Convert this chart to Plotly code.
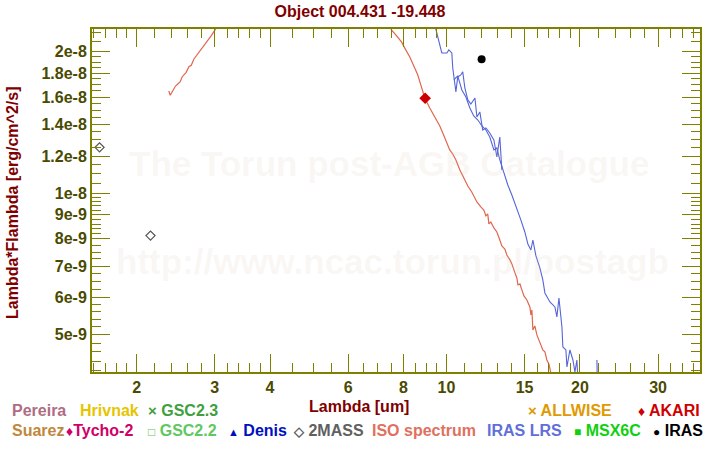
import plotly.graph_objects as go

# ---------------- data ----------------
twomass_lam = [1.65, 2.15]
twomass_flux = [1.252e-8, 8.13e-9]

akari_lam = [8.95]
akari_flux = [1.592e-8]

iras_lam = [12.0]
iras_flux = [1.927e-8]

# ISO spectrum: two visible pieces (the middle part is above the plotted range)
iso_lam = [
    2.364, 2.382, 2.414, 2.448, 2.478, 2.509, 2.535, 2.588, 2.624, 2.657,
    2.692, 2.749, 2.798, 2.847, 2.896, 2.948, 2.999, 3.046,
    None,
    7.371, 7.513, 7.685, 7.915, 8.093, 8.265, 8.438, 8.615, 8.750, 8.933,
    9.168, 9.410, 9.658, 9.809, 10.02, 10.17, 10.33, 10.50, 10.72, 10.94,
    11.17, 11.40, 11.71, 11.95, 12.14, 12.27, 12.39, 12.46, 12.59, 12.79,
    12.99, 13.19, 13.33, 13.54, 13.68, 13.90, 14.04, 14.27, 14.41, 14.49,
    14.64, 14.79, 14.95, 15.18, 15.42, 15.50, 15.58, 15.66, 15.82, 15.99,
    16.15, 16.32, 16.49, 16.67, 16.84, 17.02, 17.11, 17.29,
]
iso_flux = [
    1.650e-8, 1.616e-8, 1.652e-8, 1.690e-8, 1.707e-8, 1.726e-8, 1.769e-8, 1.807e-8, 1.858e-8, 1.871e-8,
    1.927e-8, 1.978e-8, 2.017e-8, 2.066e-8, 2.117e-8, 2.163e-8, 2.216e-8, 2.279e-8,
    None,
    2.335e-8, 2.224e-8, 2.170e-8, 2.097e-8, 2.017e-8, 1.949e-8, 1.864e-8, 1.784e-8, 1.699e-8, 1.594e-8,
    1.518e-8, 1.453e-8, 1.390e-8, 1.343e-8, 1.285e-8, 1.236e-8, 1.212e-8, 1.177e-8, 1.121e-8, 1.078e-8,
    1.036e-8, 1.006e-8, 9.583e-9, 9.352e-9, 9.215e-9, 8.949e-9, 9.037e-9, 8.607e-9, 8.690e-9, 8.437e-9,
    8.274e-9, 7.955e-9, 7.727e-9, 7.614e-9, 7.394e-9, 7.217e-9, 7.077e-9, 6.772e-9, 6.607e-9, 6.385e-9,
    6.416e-9, 6.231e-9, 6.050e-9, 5.932e-9, 5.732e-9, 5.512e-9, 5.649e-9, 5.123e-9, 5.224e-9, 4.999e-9,
    4.878e-9, 4.784e-9, 4.645e-9, 4.600e-9, 4.422e-9, 4.337e-9, 4.253e-9, 4.050e-9,
]

# IRAS LRS spectrum: short-wavelength and long-wavelength pieces (they overlap)
lrs_a_lam = [9.410, 9.658, 9.759, 10.02, 10.12, 10.28, 10.33, 10.50, 10.60, 10.77,
             10.88, 11.00, 11.17, 11.35, 11.59, 11.71, 11.89, 12.07, 12.27, 12.52,
             12.79, 12.99, 13.19, 13.33]
lrs_a_flux = [2.279e-8, 2.086e-8, 1.987e-8, 1.987e-8, 2.017e-8, 1.987e-8, 1.846e-8, 1.642e-8, 1.767e-8, 1.784e-8,
              1.811e-8, 1.674e-8, 1.579e-8, 1.548e-8, 1.594e-8, 1.453e-8, 1.489e-8, 1.363e-8, 1.377e-8, 1.343e-8,
              1.298e-8, 1.194e-8, 1.317e-8, 1.121e-8]

lrs_b_lam = [10.39, 10.60, 10.83, 11.06, 11.29, 11.52, 11.77, 12.02, 12.27, 12.52,
             12.79, 12.99, 13.19, 13.40, 13.75, 14.04, 14.41, 14.71, 15.02, 15.26,
             15.50, 15.66, 15.91, 16.24, 16.49, 16.67, 17.11, 17.56, 17.74, 17.93,
             18.21, 18.30, 18.59, 18.69, 18.98, 19.28, 19.48, 19.68, 19.79,
             None, 21.84, 21.89]
lrs_b_flux = [1.741e-8, 1.776e-8, 1.658e-8, 1.602e-8, 1.518e-8, 1.460e-8, 1.431e-8, 1.390e-8, 1.363e-8, 1.317e-8,
              1.236e-8, 1.248e-8, 1.177e-8, 1.121e-8, 1.041e-8, 9.917e-9, 9.307e-9, 8.777e-9, 8.274e-9, 7.802e-9,
              7.576e-9, 7.955e-9, 7.357e-9, 6.940e-9, 6.542e-9, 6.139e-9, 5.875e-9, 5.732e-9, 5.458e-9, 5.990e-9,
              5.198e-9, 4.714e-9, 4.645e-9, 4.273e-9, 4.645e-9, 4.422e-9, 4.170e-9, 4.422e-9, 4.011e-9,
              None, 4.422e-9, 3.914e-9]

# axis ticks
x_tickvals = [2, 3, 4, 6, 8, 10, 15, 20, 30]
x_ticktext = ["2", "3", "4", "6", "8", "10", "15", "20", "30"]
x_minor = [1.6, 1.7, 1.8, 1.9, 2.2, 2.4, 2.6, 2.8, 3.2, 3.4, 3.6, 3.8, 4.5, 5, 5.5,
           6.5, 7, 7.5, 8.5, 9, 9.5, 11, 12, 13, 14, 16, 17, 18, 19, 22, 24, 26, 28,
           32, 34, 36]
y_tickvals = [5e-9, 6e-9, 7e-9, 8e-9, 9e-9, 1e-8, 1.2e-8, 1.4e-8, 1.6e-8, 1.8e-8, 2e-8]
y_ticktext = ["5e-9", "6e-9", "7e-9", "8e-9", "9e-9", "1e-8", "1.2e-8", "1.4e-8",
              "1.6e-8", "1.8e-8", "2e-8"]
y_minor = [4.2e-9, 4.4e-9, 4.6e-9, 4.8e-9, 5.2e-9, 5.4e-9, 5.6e-9, 5.8e-9,
           6.25e-9, 6.5e-9, 6.75e-9, 7.25e-9, 7.5e-9, 7.75e-9,
           8.2e-9, 8.4e-9, 8.6e-9, 8.8e-9, 9.2e-9, 9.4e-9, 9.6e-9, 9.8e-9,
           1.05e-8, 1.1e-8, 1.15e-8, 1.25e-8, 1.3e-8, 1.35e-8, 1.45e-8, 1.5e-8, 1.55e-8,
           1.65e-8, 1.7e-8, 1.75e-8, 1.85e-8, 1.9e-8, 1.95e-8, 2.1e-8, 2.2e-8]

title_text = "Object 004.431 -19.448"
x_title = "Lambda [um]"
y_title = "Lambda*Flambda [erg/cm^2/s]"
watermark1 = "The Torun post-AGB Catalogue"
watermark2 = "http://www.ncac.torun.pl/postagb"

# ---------------- layout constants ----------------
W, H = 720, 450
L, R, T, B = 92, 20, 29, 78
FONT = "Liberation Sans, Arial, sans-serif"
AXIS_COL = "#808000"
TICK_COL = "#4a4a00"
DARKRED = "#800000"


def px_x(px):
    return (px - L) / (W - L - R)


def px_y(py):
    return (H - B - py) / (H - T - B)


fig = go.Figure()

fig.add_trace(go.Scatter(x=iso_lam, y=iso_flux, mode="lines",
                         line=dict(color="#e0664f", width=1.2), connectgaps=False,
                         hoverinfo="skip"))
fig.add_trace(go.Scatter(x=lrs_a_lam, y=lrs_a_flux, mode="lines",
                         line=dict(color="#5565d8", width=1.1), hoverinfo="skip"))
fig.add_trace(go.Scatter(x=lrs_b_lam, y=lrs_b_flux, mode="lines",
                         line=dict(color="#5565d8", width=1.1), connectgaps=False,
                         hoverinfo="skip"))
fig.add_trace(go.Scatter(x=twomass_lam, y=twomass_flux, mode="markers",
                         marker=dict(symbol="diamond-open", size=7, color="#555555",
                                     line=dict(width=1.2, color="#555555"))))
fig.add_trace(go.Scatter(x=akari_lam, y=akari_flux, mode="markers",
                         marker=dict(symbol="diamond", size=9, color="#cc0000")))
fig.add_trace(go.Scatter(x=iras_lam, y=iras_flux, mode="markers",
                         marker=dict(symbol="circle", size=8, color="#000000")))

axis_common = dict(
    type="log",
    showgrid=False, zeroline=False,
    showline=True, linecolor=AXIS_COL, linewidth=2, mirror="ticks",
    ticks="inside", ticklen=18, tickwidth=1, tickcolor=AXIS_COL,
    tickmode="array",
    tickfont=dict(family=FONT, size=16, color=TICK_COL, weight="bold"),
)

fig.update_xaxes(
    **axis_common,
    range=[0.2005, 1.5717],
    tickvals=x_tickvals, ticktext=x_ticktext,
    minor=dict(tickmode="array", tickvals=x_minor, ticks="inside", ticklen=9,
               tickwidth=1, tickcolor=AXIS_COL, showgrid=False),
)
fig.update_yaxes(
    **axis_common,
    range=[-8.3799, -7.6509],
    tickvals=y_tickvals, ticktext=y_ticktext,
    minor=dict(tickmode="array", tickvals=y_minor, ticks="inside", ticklen=9,
               tickwidth=1, tickcolor=AXIS_COL, showgrid=False),
)

annotations = []
# watermark
wm_col = "rgba(210,190,160,0.12)"
annotations.append(dict(text=watermark1, xref="paper", yref="paper",
                        x=px_x(389), y=px_y(163), xanchor="center", yanchor="middle",
                        showarrow=False,
                        font=dict(family=FONT, size=35, color=wm_col, weight="bold")))
annotations.append(dict(text=watermark2, xref="paper", yref="paper",
                        x=px_x(392), y=px_y(261), xanchor="center", yanchor="middle",
                        showarrow=False,
                        font=dict(family=FONT, size=35, color=wm_col, weight="bold")))
# axis titles
annotations.append(dict(text=x_title, xref="paper", yref="paper",
                        x=px_x(359), y=px_y(406), xanchor="center", yanchor="middle",
                        showarrow=False,
                        font=dict(family=FONT, size=16, color=DARKRED, weight="bold")))
annotations.append(dict(text=y_title, xref="paper", yref="paper", textangle=-90,
                        x=px_x(12), y=px_y(203), xanchor="center", yanchor="middle",
                        showarrow=False,
                        font=dict(family=FONT, size=16, color=DARKRED, weight="bold")))


def sym(s, size=14):
    return '<span style="font-size:%dpx">%s</span>' % (size, s)


legend_row1 = [
    (10, "Pereira", "#b06c84"),
    (78, "Hrivnak", "#e6c400"),
    (146, sym("×", 15) + " GSC2.3", "#40a040"),
    (526, sym("×", 15) + " ALLWISE", "#e09a00"),
    (636, sym("♦") + " AKARI", "#d00000"),
]
legend_row2 = [
    (10, "Suarez", "#c0883c"),
    (64, sym("♦") + "Tycho-2", "#d0006a"),
    (146, sym("□", 12) + " GSC2.2", "#60c860"),
    (226, sym("▲", 11) + " Denis", "#0010c0"),
    (291, sym("◇", 13) + " 2MASS", "#606060"),
    (370, "ISO spectrum", "#e07060"),
    (485, "IRAS LRS", "#6070d8"),
    (572, sym("■", 12) + " MSX6C", "#10d010"),
    (651, sym("●", 12) + " IRAS", "#000000"),
]
for row, ypix in ((legend_row1, 410), (legend_row2, 430)):
    for xpix, txt, col in row:
        annotations.append(dict(text=txt, xref="paper", yref="paper",
                                x=px_x(xpix), y=px_y(ypix), xanchor="left", yanchor="middle",
                                showarrow=False,
                                font=dict(family=FONT, size=16, color=col, weight="bold")))

fig.update_layout(
    width=W, height=H,
    margin=dict(l=L, r=R, t=T, b=B),
    paper_bgcolor="white", plot_bgcolor="white",
    showlegend=False,
    title=dict(text=title_text, x=0.5, xanchor="center", xref="container",
               y=1 - 11 / H, yanchor="middle", yref="container",
               font=dict(family=FONT, size=16, color=DARKRED, weight="bold")),
    annotations=annotations,
)

fig.write_html("out.html")
